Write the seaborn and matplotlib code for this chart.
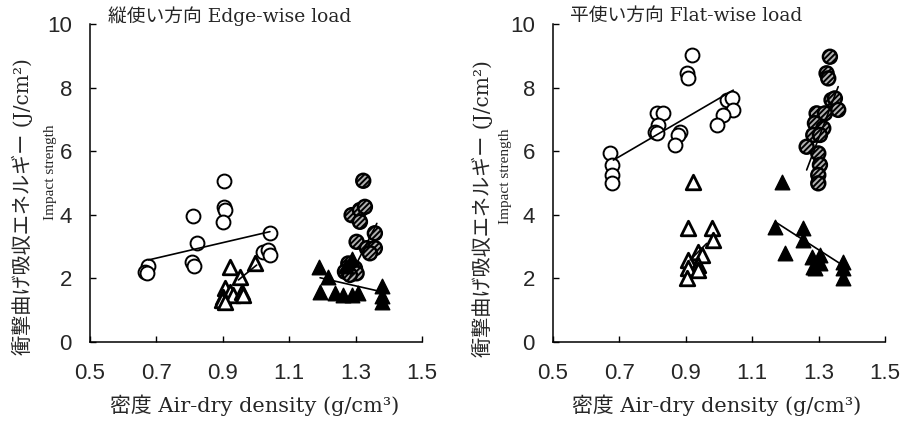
import matplotlib
matplotlib.use("Agg")
import matplotlib.pyplot as plt
import seaborn as sns
import numpy as np
import pandas as pd

sns.set_style("ticks")
plt.rcParams['font.family'] = ['Liberation Sans', 'Noto Sans CJK JP']
plt.rcParams['hatch.linewidth'] = 1.4

# ---------------- data: edge-wise load (left) ----------------
edge_open_circ_x = [0.904, 0.811, 0.904, 0.907, 0.900, 0.821, 1.042, 0.806, 0.814, 0.676, 0.666, 0.671, 1.022, 1.037, 1.042]
edge_open_circ_y = [5.07, 3.97, 4.25, 4.15, 3.78, 3.12, 3.42, 2.53, 2.39, 2.39, 2.21, 2.16, 2.84, 2.89, 2.74]
edge_open_tri_x = [0.922, 0.997, 0.952, 0.907, 0.922, 0.902, 0.932, 0.957, 0.962, 0.897, 0.907]
edge_open_tri_y = [2.37, 2.47, 2.05, 1.69, 1.58, 1.42, 1.48, 1.58, 1.48, 1.32, 1.27]
edge_hatch_circ_x = [1.323, 1.288, 1.313, 1.328, 1.313, 1.358, 1.303, 1.334, 1.358, 1.343, 1.278, 1.298, 1.268, 1.303, 1.283]
edge_hatch_circ_y = [5.07, 3.99, 4.15, 4.25, 3.78, 3.42, 3.15, 2.95, 2.95, 2.79, 2.47, 2.32, 2.21, 2.16, 2.11]
edge_fill_tri_x = [1.190, 1.218, 1.193, 1.238, 1.263, 1.288, 1.308, 1.379, 1.379, 1.379, 1.270, 1.290]
edge_fill_tri_y = [2.37, 2.05, 1.58, 1.53, 1.48, 1.48, 1.53, 1.75, 1.45, 1.27, 2.40, 2.60]

edge_fit_open_circ_x = [0.676, 1.042]
edge_fit_open_circ_y = [2.58, 3.47]
edge_fit_open_tri_x = [0.947, 1.002]
edge_fit_open_tri_y = [1.95, 2.42]
edge_fit_hatch_circ_x = [1.278, 1.364]
edge_fit_hatch_circ_y = [1.95, 3.73]
edge_fit_fill_tri_x = [1.193, 1.370]
edge_fit_fill_tri_y = [2.02, 1.60]

# ---------------- data: flat-wise load (right) ----------------
flat_open_circ_x = [0.918, 0.903, 0.908, 1.023, 1.038, 1.043, 1.013, 0.993, 0.812, 0.832, 0.817, 0.807, 0.812, 0.883, 0.878, 0.867, 0.672, 0.677, 0.677, 0.677]
flat_open_circ_y = [9.03, 8.45, 8.29, 7.61, 7.66, 7.30, 7.14, 6.82, 7.19, 7.19, 6.82, 6.61, 6.56, 6.61, 6.51, 6.19, 5.93, 5.57, 5.25, 4.99]
flat_hatch_circ_x = [1.334, 1.324, 1.329, 1.339, 1.349, 1.359, 1.294, 1.319, 1.289, 1.314, 1.284, 1.304, 1.264, 1.299, 1.304, 1.299, 1.299]
flat_hatch_circ_y = [8.97, 8.45, 8.29, 7.61, 7.66, 7.30, 7.19, 7.19, 6.88, 6.72, 6.51, 6.51, 6.14, 5.93, 5.57, 5.25, 4.99]
flat_open_tri_x = [0.923, 0.908, 0.978, 0.983, 0.938, 0.948, 0.908, 0.938, 0.908, 0.938, 0.903]
flat_open_tri_y = [5.04, 3.58, 3.58, 3.21, 2.84, 2.74, 2.58, 2.42, 2.32, 2.26, 2.00]
flat_fill_tri_x = [1.189, 1.169, 1.254, 1.254, 1.199, 1.279, 1.304, 1.284, 1.304, 1.374, 1.374, 1.374, 1.289]
flat_fill_tri_y = [5.04, 3.63, 3.58, 3.21, 2.79, 2.68, 2.74, 2.37, 2.47, 2.53, 2.32, 2.00, 2.32]

flat_fit_open_circ_x = [0.682, 1.043]
flat_fit_open_circ_y = [5.72, 7.92]
flat_fit_hatch_circ_x = [1.264, 1.359]
flat_fit_hatch_circ_y = [5.41, 8.03]
flat_fit_open_tri_x = [0.913, 0.963]
flat_fit_open_tri_y = [2.58, 3.10]
flat_fit_fill_tri_x = [1.169, 1.379]
flat_fit_fill_tri_y = [3.78, 2.37]

x_ticks = [0.5, 0.7, 0.9, 1.1, 1.3, 1.5]
y_ticks = [0, 2, 4, 6, 8, 10]
titles = ["縦使い方向 Edge-wise load", "平使い方向 Flat-wise load"]
xlabel = "密度 Air-dry density (g/cm³)"
ylabel1 = "衝撃曲げ吸収エネルギー (J/cm²)"
ylabel2 = "Impact strength"

fig = plt.figure(figsize=(9.05, 4.25), dpi=100)
W, H = 905, 425
ax_l = fig.add_axes([90 / W, (H - 342) / H, 332 / W, 318 / H])
ax_r = fig.add_axes([553 / W, (H - 342) / H, 332 / W, 318 / H])

serif = ['DejaVu Serif', 'Noto Sans CJK JP']
serif_narrow = ['Liberation Serif', 'Noto Sans CJK JP']


def draw_panel(ax, oc, ot, hc, ft, fits):
    S_C = 100
    S_T = 110
    sns.scatterplot(x=oc[0], y=oc[1], ax=ax, marker='o', s=S_C, facecolor='white',
                    edgecolor='black', linewidth=1.4, zorder=3)
    sns.scatterplot(x=hc[0], y=hc[1], ax=ax, marker='o', s=S_C, facecolor='#b0b0b0',
                    edgecolor='black', linewidth=1.8, hatch='//////', zorder=3)
    sns.scatterplot(x=ot[0], y=ot[1], ax=ax, marker='^', s=S_T, facecolor='white',
                    edgecolor='black', linewidth=2.0, zorder=3)
    sns.scatterplot(x=ft[0], y=ft[1], ax=ax, marker='^', s=S_T, facecolor='black',
                    edgecolor='black', linewidth=1.0, zorder=3)
    for fx, fy in fits:
        sns.lineplot(x=fx, y=fy, ax=ax, color='black', linewidth=1.2, zorder=4)
    ax.set_xlim(0.5, 1.5)
    ax.set_ylim(0, 10)
    ax.set_xticks(x_ticks)
    ax.set_yticks(y_ticks)
    ax.set_xticklabels([f"{v:.1f}" for v in x_ticks])
    ax.set_yticklabels([str(v) for v in y_ticks])
    ax.tick_params(direction='in', length=4, width=1.0, labelsize=16, color='black')
    ax.tick_params(axis='y', pad=13)
    ax.tick_params(axis='x', pad=15)
    for s in ['top', 'right']:
        ax.spines[s].set_visible(False)
    for s in ['left', 'bottom']:
        ax.spines[s].set_linewidth(1.1)
        ax.spines[s].set_color('black')
    ax.set_xlabel('')
    ax.set_ylabel('')


draw_panel(ax_l,
           (edge_open_circ_x, edge_open_circ_y), (edge_open_tri_x, edge_open_tri_y),
           (edge_hatch_circ_x, edge_hatch_circ_y), (edge_fill_tri_x, edge_fill_tri_y),
           [(edge_fit_open_circ_x, edge_fit_open_circ_y), (edge_fit_open_tri_x, edge_fit_open_tri_y),
            (edge_fit_hatch_circ_x, edge_fit_hatch_circ_y), (edge_fit_fill_tri_x, edge_fit_fill_tri_y)])
draw_panel(ax_r,
           (flat_open_circ_x, flat_open_circ_y), (flat_open_tri_x, flat_open_tri_y),
           (flat_hatch_circ_x, flat_hatch_circ_y), (flat_fill_tri_x, flat_fill_tri_y),
           [(flat_fit_open_circ_x, flat_fit_open_circ_y), (flat_fit_open_tri_x, flat_fit_open_tri_y),
            (flat_fit_hatch_circ_x, flat_fit_hatch_circ_y), (flat_fit_fill_tri_x, flat_fit_fill_tri_y)])

# titles
ax_l.text(18 / 332, 1 + 8 / 318, titles[0], transform=ax_l.transAxes, ha='left', va='center',
          fontsize=13.5, family=serif)
ax_r.text(17 / 332, 1 + 8 / 318, titles[1], transform=ax_r.transAxes, ha='left', va='center',
          fontsize=13.5, family=serif)

# x labels
fig.text(255 / W, (H - 405) / H, xlabel, ha='center', va='center', fontsize=15, family=serif)
fig.text(717 / W, (H - 405) / H, xlabel, ha='center', va='center', fontsize=15, family=serif)

# y labels
fig.text(22 / W, (H - 207) / H, ylabel1, rotation=90, ha='center', va='center', fontsize=14.5, family=serif)
fig.text(50 / W, (H - 172) / H, ylabel2, rotation=90, ha='center', va='center', fontsize=11, family=serif_narrow)
fig.text(482 / W, (H - 209) / H, ylabel1, rotation=90, ha='center', va='center', fontsize=14.5, family=serif)
fig.text(505 / W, (H - 176) / H, ylabel2, rotation=90, ha='center', va='center', fontsize=11, family=serif_narrow)

fig.savefig("out.png", dpi=100)
